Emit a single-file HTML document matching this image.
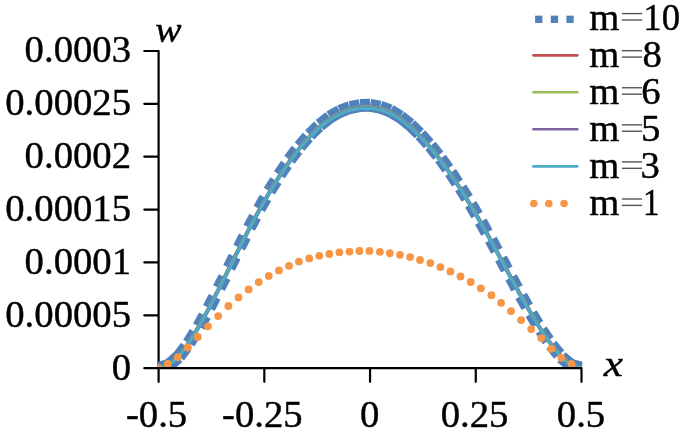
<!DOCTYPE html>
<html><head><meta charset="utf-8"><style>
html,body{margin:0;padding:0;background:#fff;width:685px;height:434px;overflow:hidden}
svg{display:block}
</style></head><body>
<svg width="685" height="434" viewBox="0 0 685 434">
<defs><clipPath id="pa"><rect x="157.3" y="0" width="425.2" height="368.2"/></clipPath></defs>
<path d="M144.3,50.98H158.6V381.8M144.3,315.33H158.6M144.3,262.46H158.6M144.3,209.59H158.6M144.3,156.72H158.6M144.3,103.85H158.6" fill="none" stroke="#000" stroke-width="2.2" stroke-linejoin="round" stroke-linecap="round"/>
<g clip-path="url(#pa)">
<g stroke="#4F81BD" stroke-width="13" stroke-dasharray="12.5 30" stroke-linecap="butt" fill="none"><line x1="158.6" y1="368.2" x2="168.67" y2="365.49"/><line x1="168.67" y1="365.49" x2="178.74" y2="356.62"/><line x1="178.74" y1="356.62" x2="188.81" y2="343.14"/><line x1="188.81" y1="343.14" x2="198.88" y2="326.58"/><line x1="198.88" y1="326.58" x2="208.95" y2="308"/><line x1="208.95" y1="308" x2="219.01" y2="288.22"/><line x1="219.01" y1="288.22" x2="229.08" y2="267.91"/><line x1="229.08" y1="267.91" x2="239.15" y2="247.6"/><line x1="239.15" y1="247.6" x2="249.22" y2="227.78"/><line x1="249.22" y1="227.78" x2="259.29" y2="208.9"/><line x1="259.29" y1="208.9" x2="269.36" y2="191.18"/><line x1="269.36" y1="191.18" x2="279.43" y2="174.75"/><line x1="279.43" y1="174.75" x2="289.5" y2="159.75"/><line x1="289.5" y1="159.75" x2="299.57" y2="146.4"/><line x1="299.57" y1="146.4" x2="309.64" y2="134.84"/><line x1="309.64" y1="134.84" x2="319.7" y2="125.09"/><line x1="319.7" y1="125.09" x2="329.77" y2="117.22"/><line x1="329.77" y1="117.22" x2="339.84" y2="111.39"/><line x1="339.84" y1="111.39" x2="349.91" y2="107.54"/><line x1="349.91" y1="107.54" x2="359.98" y2="105.54"/><line x1="359.98" y1="105.54" x2="370.05" y2="105.35"/><line x1="370.05" y1="105.35" x2="380.12" y2="107.08"/><line x1="380.12" y1="107.08" x2="390.19" y2="110.85"/><line x1="390.19" y1="110.85" x2="400.26" y2="116.78"/><line x1="400.26" y1="116.78" x2="410.33" y2="124.82"/><line x1="410.33" y1="124.82" x2="420.4" y2="134.64"/><line x1="420.4" y1="134.64" x2="430.46" y2="145.89"/><line x1="430.46" y1="145.89" x2="440.53" y2="158.52"/><line x1="440.53" y1="158.52" x2="450.6" y2="172.53"/><line x1="450.6" y1="172.53" x2="460.67" y2="187.82"/><line x1="460.67" y1="187.82" x2="470.74" y2="204.24"/><line x1="470.74" y1="204.24" x2="480.81" y2="221.6"/><line x1="480.81" y1="221.6" x2="490.88" y2="239.75"/><line x1="490.88" y1="239.75" x2="500.95" y2="258.45"/><line x1="500.95" y1="258.45" x2="511.02" y2="277.35"/><line x1="511.02" y1="277.35" x2="521.09" y2="295.91"/><line x1="521.09" y1="295.91" x2="531.15" y2="313.65"/><line x1="531.15" y1="313.65" x2="541.22" y2="330.14"/><line x1="541.22" y1="330.14" x2="551.29" y2="344.93"/><line x1="551.29" y1="344.93" x2="561.36" y2="357.24"/><line x1="561.36" y1="357.24" x2="571.43" y2="365.59"/><line x1="571.43" y1="365.59" x2="581.5" y2="368.2"/></g>
<polyline points="158.6,368.2 168.67,365.11 178.74,356.34 188.81,343 198.88,326.61 208.95,308.23 219.01,288.65 229.08,268.55 239.15,248.45 249.22,228.84 259.29,210.15 269.36,192.62 279.43,176.36 289.5,161.52 299.57,148.3 309.64,136.86 319.7,127.21 329.77,119.43 339.84,113.66 349.91,109.84 359.98,107.86 370.05,107.68 380.12,109.39 390.19,113.12 400.26,119 410.33,126.95 420.4,136.67 430.46,147.8 440.53,160.3 450.6,174.16 460.67,189.3 470.74,205.55 480.81,222.73 490.88,240.68 500.95,259.19 511.02,277.89 521.09,296.26 531.15,313.81 541.22,330.14 551.29,344.77 561.36,356.96 571.43,365.22 581.5,368.2" fill="none" stroke="#C0504D" stroke-width="3.8" stroke-linejoin="round"/>
<polyline points="158.6,368.2 168.67,364.61 178.74,355.84 188.81,342.5 198.88,326.11 208.95,307.73 219.01,288.15 229.08,268.05 239.15,247.95 249.22,228.34 259.29,209.65 269.36,192.12 279.43,175.86 289.5,161.02 299.57,147.8 309.64,136.36 319.7,126.71 329.77,118.93 339.84,113.16 349.91,109.34 359.98,107.36 370.05,107.18 380.12,108.89 390.19,112.62 400.26,118.5 410.33,126.45 420.4,136.17 430.46,147.3 440.53,159.8 450.6,173.66 460.67,188.8 470.74,205.05 480.81,222.23 490.88,240.18 500.95,258.69 511.02,277.39 521.09,295.76 531.15,313.31 541.22,329.64 551.29,344.27 561.36,356.46 571.43,364.72 581.5,368.2" fill="none" stroke="#9BBB59" stroke-width="3.8" stroke-linejoin="round"/>
<polyline points="158.6,368.2 168.67,365.21 178.74,356.44 188.81,343.1 198.88,326.71 208.95,308.33 219.01,288.75 229.08,268.65 239.15,248.55 249.22,228.94 259.29,210.25 269.36,192.72 279.43,176.46 289.5,161.62 299.57,148.4 309.64,136.96 319.7,127.31 329.77,119.53 339.84,113.76 349.91,109.94 359.98,107.96 370.05,107.78 380.12,109.49 390.19,113.22 400.26,119.1 410.33,127.05 420.4,136.77 430.46,147.9 440.53,160.4 450.6,174.26 460.67,189.4 470.74,205.65 480.81,222.83 490.88,240.78 500.95,259.29 511.02,277.99 521.09,296.36 531.15,313.91 541.22,330.24 551.29,344.87 561.36,357.06 571.43,365.32 581.5,368.2" fill="none" stroke="#8064A2" stroke-width="3.8" stroke-linejoin="round"/>
<polyline points="158.6,368.2 168.67,365.51 178.74,356.74 188.81,343.4 198.88,327.01 208.95,308.63 219.01,289.05 229.08,268.95 239.15,248.85 249.22,229.24 259.29,210.55 269.36,193.02 279.43,176.76 289.5,161.92 299.57,148.7 309.64,137.26 319.7,127.61 329.77,119.83 339.84,114.06 349.91,110.24 359.98,108.26 370.05,108.08 380.12,109.79 390.19,113.52 400.26,119.4 410.33,127.35 420.4,137.07 430.46,148.2 440.53,160.7 450.6,174.56 460.67,189.7 470.74,205.95 480.81,223.13 490.88,241.08 500.95,259.59 511.02,278.29 521.09,296.66 531.15,314.21 541.22,330.54 551.29,345.17 561.36,357.36 571.43,365.62 581.5,368.2" fill="none" stroke="#4BACC6" stroke-width="3.3" stroke-linejoin="round"/>
<g fill="#F79646"><circle cx="158.6" cy="368.1" r="3.9"/><circle cx="167.8" cy="363.8" r="3.9"/><circle cx="177.8" cy="357.1" r="3.9"/><circle cx="187.9" cy="347.6" r="3.9"/><circle cx="197.8" cy="337" r="3.9"/><circle cx="207.9" cy="326.3" r="3.9"/><circle cx="218.2" cy="316.1" r="3.9"/><circle cx="228.4" cy="306" r="3.9"/><circle cx="238.5" cy="297.4" r="3.9"/><circle cx="248.6" cy="289.4" r="3.9"/><circle cx="258.7" cy="282.1" r="3.9"/><circle cx="268.8" cy="275.9" r="3.9"/><circle cx="278.9" cy="270.4" r="3.9"/><circle cx="289" cy="265.8" r="3.9"/><circle cx="298.9" cy="261.6" r="3.9"/><circle cx="309.2" cy="258.4" r="3.9"/><circle cx="319.3" cy="255.8" r="3.9"/><circle cx="329.3" cy="254" r="3.9"/><circle cx="339.4" cy="252.4" r="3.9"/><circle cx="349.5" cy="251.6" r="3.9"/><circle cx="359.4" cy="251" r="3.9"/><circle cx="369.4" cy="250.9" r="3.9"/><circle cx="379.9" cy="251.9" r="3.9"/><circle cx="389.8" cy="253.2" r="3.9"/><circle cx="400" cy="254.8" r="3.9"/><circle cx="410.1" cy="257.1" r="3.9"/><circle cx="420" cy="259.9" r="3.9"/><circle cx="430.3" cy="263.1" r="3.9"/><circle cx="440.4" cy="267.1" r="3.9"/><circle cx="450.4" cy="271.4" r="3.9"/><circle cx="460.5" cy="276.5" r="3.9"/><circle cx="470.7" cy="282" r="3.9"/><circle cx="480.9" cy="288.3" r="3.9"/><circle cx="491.4" cy="295.2" r="3.9"/><circle cx="501.1" cy="302.8" r="3.9"/><circle cx="511" cy="311.1" r="3.9"/><circle cx="521.1" cy="320.1" r="3.9"/><circle cx="531.2" cy="329.1" r="3.9"/><circle cx="541.2" cy="338.1" r="3.9"/><circle cx="551.3" cy="348.8" r="3.9"/><circle cx="561.3" cy="357.8" r="3.9"/><circle cx="571.5" cy="364" r="3.9"/></g>
</g>
<path d="M144.3,368.2H581.5V381.8M264.32,368.2V381.8M370.05,368.2V381.8M475.77,368.2V381.8" fill="none" stroke="#000" stroke-width="2.2" stroke-linejoin="round" stroke-linecap="round"/>
<g style="font-family:'Liberation Serif',serif" font-size="38.7" fill="#000" stroke="#000" stroke-width="0.45" opacity="0.999"><text x="0" y="0" text-anchor="end" transform="translate(131,379.9) scale(1.0,1)">0</text><text x="0" y="0" text-anchor="end" transform="translate(131,327.03) scale(1.0,1)">0.00005</text><text x="0" y="0" text-anchor="end" transform="translate(131,274.16) scale(1.0,1)">0.0001</text><text x="0" y="0" text-anchor="end" transform="translate(131,221.29) scale(1.0,1)">0.00015</text><text x="0" y="0" text-anchor="end" transform="translate(131,168.42) scale(1.0,1)">0.0002</text><text x="0" y="0" text-anchor="end" transform="translate(131,114.85) scale(1.0,1)">0.00025</text><text x="0" y="0" text-anchor="end" transform="translate(131,61.58) scale(1.0,1)">0.0003</text><text x="0" y="0" text-anchor="middle" transform="translate(156.6,427) scale(1.0,1)">-0.5</text><text x="0" y="0" text-anchor="middle" transform="translate(262.32,427) scale(1.0,1)">-0.25</text><text x="0" y="0" text-anchor="middle" transform="translate(369.55,427) scale(1.0,1)">0</text><text x="0" y="0" text-anchor="middle" transform="translate(474.47,427) scale(1.0,1)">0.25</text><text x="0" y="0" text-anchor="middle" transform="translate(581,427) scale(1.0,1)">0.5</text><text x="589.2" y="30.3">m</text><text transform="translate(662.35,30.3) scale(0.95,1)" x="-20" y="0">10</text><text x="589.2" y="67.3">m</text><text transform="translate(652.05,67.3) scale(1,1)" x="-9.5" y="0">8</text><text x="589.2" y="104.3">m</text><text transform="translate(651.35,104.3) scale(1,1)" x="-10" y="0">6</text><text x="589.2" y="141.3">m</text><text transform="translate(651,141.3) scale(1,1)" x="-10" y="0">5</text><text x="589.2" y="178.3">m</text><text transform="translate(650.5,178.3) scale(1,1)" x="-10" y="0">3</text><text x="589.2" y="215.3">m</text><text transform="translate(651.55,215.3) scale(0.85,1)" x="-10" y="0">1</text></g>
<g style="font-family:'Liberation Serif',serif" font-style="italic" font-size="38.7" fill="#000" stroke="#000" stroke-width="0.45" opacity="0.999">
<text transform="translate(155.3,42) scale(1.08,1)" font-size="36.5">w</text>
<text transform="translate(603.8,376.2) scale(1.18,1)" font-size="36.5">x</text>
</g>
<rect x="535.1" y="15.65" width="7.3" height="7.3" fill="#4F81BD"/><rect x="550.8" y="15.65" width="7.3" height="7.3" fill="#4F81BD"/><rect x="566.4" y="15.65" width="7.3" height="7.3" fill="#4F81BD"/><line x1="533.4" x2="577.3" y1="55.35" y2="55.35" stroke="#C0504D" stroke-width="2.6" stroke-linecap="round"/><line x1="533.4" x2="577.3" y1="92.3" y2="92.3" stroke="#9BBB59" stroke-width="2.6" stroke-linecap="round"/><line x1="533.4" x2="577.3" y1="129.2" y2="129.2" stroke="#8064A2" stroke-width="2.6" stroke-linecap="round"/><line x1="533.4" x2="577.3" y1="166.35" y2="166.35" stroke="#4BACC6" stroke-width="2.6" stroke-linecap="round"/><circle cx="533.8" cy="203.55" r="3.8" fill="#F79646"/><circle cx="548.8" cy="203.55" r="3.8" fill="#F79646"/><circle cx="564.1" cy="203.55" r="3.8" fill="#F79646"/>
<g fill="#555"><rect x="621.9" y="12.9" width="20.2" height="1.4"/><rect x="621.9" y="19.3" width="20.2" height="1.4"/><rect x="621.9" y="49.98" width="20.2" height="1.4"/><rect x="621.9" y="56.38" width="20.2" height="1.4"/><rect x="621.9" y="87.06" width="20.2" height="1.4"/><rect x="621.9" y="93.46" width="20.2" height="1.4"/><rect x="621.9" y="124.14" width="20.2" height="1.4"/><rect x="621.9" y="130.54" width="20.2" height="1.4"/><rect x="621.9" y="161.22" width="20.2" height="1.4"/><rect x="621.9" y="167.62" width="20.2" height="1.4"/><rect x="621.9" y="198.3" width="20.2" height="1.4"/><rect x="621.9" y="204.7" width="20.2" height="1.4"/></g>
</svg>
</body></html>
